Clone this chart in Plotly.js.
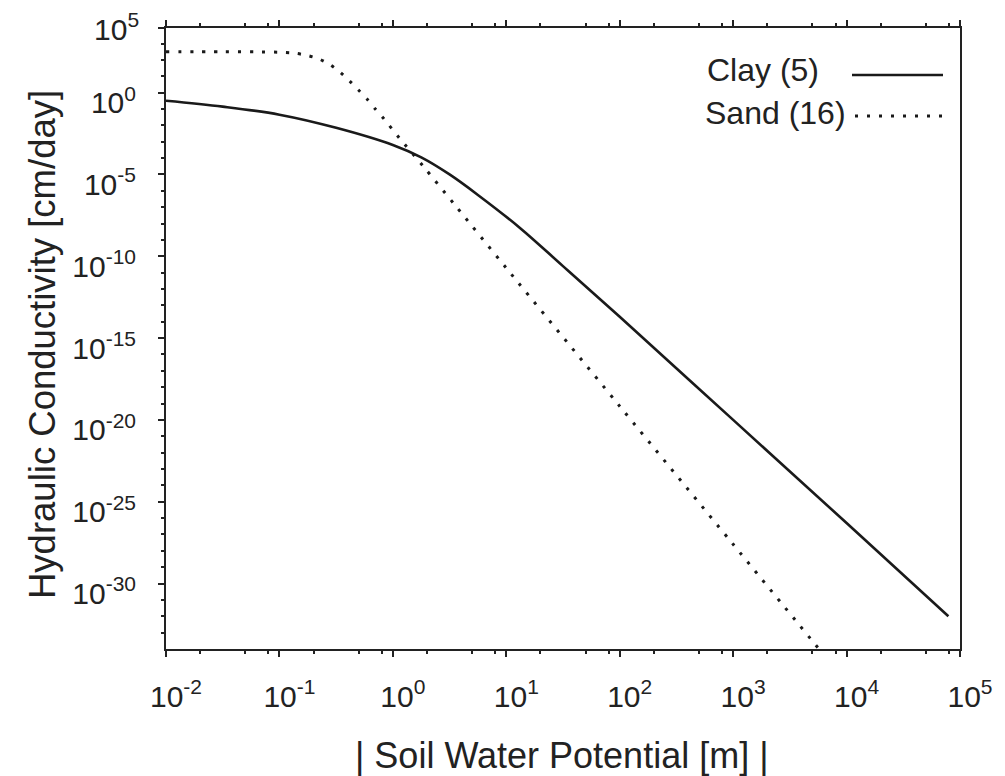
<!DOCTYPE html>
<html>
<head>
<meta charset="utf-8">
<script src="https://cdn.plot.ly/plotly-3.0.1.min.js"></script>
<style>html,body{margin:0;padding:0;background:#fff;}#chart{width:1005px;height:776px;}</style>
</head>
<body>
<div id="chart"></div>
<script>
// Data
const clayName = "Clay (5)";
const sandName = "Sand (16)";
const clayX = [1e-2, 3.16e-2, 1e-1, 0.316, 1, 1.78, 3.16, 5.62, 13.2, 31.6, 100, 1000, 1e4, 7.9e4];
const clayY = [3.2e-1, 1.4e-1, 4.5e-2, 7.1e-3, 6.3e-4, 1.1e-4, 1e-5, 5.6e-7, 5.4e-9, 2.5e-11, 2e-14, 1e-20, 5e-27, 1e-32];
const sandX = [1e-2, 3.16e-2, 6.3e-2, 0.1, 0.134, 0.174, 0.223, 0.279, 0.344, 0.413, 0.495, 0.592, 0.700, 0.830, 1.14, 1.88, 3.61, 10, 100, 1000, 6310];
const sandY = [316, 316, 309, 295, 263, 190, 115, 51, 17.4, 5.4, 1.5, 0.41, 0.1, 0.026, 1.7e-3, 2.8e-5, 1.1e-7, 1.9e-11, 6.9e-20, 2.5e-28, 4.3e-35];

const xTickVals = [1e-2, 1e-1, 1e0, 1e1, 1e2, 1e3, 1e4, 1e5];
const xTickExp = ["-2", "-1", "0", "1", "2", "3", "4", "5"];
const yTickVals = [1e-30, 1e-25, 1e-20, 1e-15, 1e-10, 1e-5, 1e0, Math.pow(10, 3.95)];
const yTickExp = ["-30", "-25", "-20", "-15", "-10", "-5", "0", "5"];

const xTitle = "| Soil Water Potential [m] |";
const yTitle = "Hydraulic Conductivity [cm/day]";

const supLabel = e => "10<sup>" + e + "</sup>";
// the top label is drawn just below the frame corner, as in the reference
const yTickText = yTickExp.map((e, i) => i === yTickExp.length - 1 ? "" : supLabel(e));

// minor tick positions
const xMinor = [];
for (let e = -2; e < 5; e++) { [2, 5, 8].forEach(m => xMinor.push(m * Math.pow(10, e))); }
const yMinor = [];
for (let e = -33; e <= 3; e++) { if (e % 5 !== 0) yMinor.push(Math.pow(10, e)); }

const W = 1005, H = 776;
const M = {l: 166, r: 45, t: 28, b: 127};
const px = x => (x - M.l) / (W - M.l - M.r);
const py = y => (H - M.b - y) / (H - M.t - M.b);

const font = "Liberation Sans, Arial, Helvetica, sans-serif";
const ink = "#222";

const traces = [
  {x: clayX, y: clayY, mode: "lines", name: clayName,
   line: {color: "#1a1a1a", width: 2.6, shape: "spline", smoothing: 1}},
  {x: sandX, y: sandY, mode: "lines", name: sandName,
   line: {color: "#1a1a1a", width: 3, dash: "3px,9px", shape: "spline", smoothing: 0.8}}
];

const layout = {
  width: W, height: H,
  margin: M,
  paper_bgcolor: "#fff", plot_bgcolor: "#fff",
  showlegend: false,
  font: {family: font, color: ink, size: 30},
  xaxis: {
    type: "log", range: [-2, 5],
    tickmode: "array", tickvals: xTickVals, ticktext: xTickExp.map(supLabel),
    ticks: "outside", ticklen: 6, tickwidth: 2, tickcolor: ink,
    minor: {tickmode: "array", tickvals: xMinor, ticks: "outside", ticklen: 3, tickwidth: 2, tickcolor: ink},
    showline: true, linecolor: ink, linewidth: 2, mirror: "ticks",
    showgrid: false, zeroline: false,
    tickfont: {size: 30, family: font, color: ink},
    ticklabelshift: 10, ticklabelstandoff: 14,
    automargin: false
  },
  yaxis: {
    type: "log", range: [-34, 3.95],
    tickmode: "array", tickvals: yTickVals, ticktext: yTickText,
    ticks: "outside", ticklen: 6, tickwidth: 2, tickcolor: ink,
    minor: {tickmode: "array", tickvals: yMinor, ticks: "outside", ticklen: 3, tickwidth: 2, tickcolor: ink},
    showline: true, linecolor: ink, linewidth: 2, mirror: true,
    showgrid: false, zeroline: false,
    tickfont: {size: 30, family: font, color: ink},
    ticklabelshift: 10, ticklabelstandoff: 16,
    automargin: false
  },
  annotations: [
    {xref: "paper", yref: "paper", x: px(141), y: py(27), xanchor: "right", yanchor: "middle",
     text: supLabel(yTickExp[yTickExp.length - 1]), showarrow: false, font: {size: 30, family: font, color: ink}},
    {xref: "paper", yref: "paper", x: px(705), y: py(70), xanchor: "left", yanchor: "middle",
     text: clayName, showarrow: false, font: {size: 32, family: font, color: ink}},
    {xref: "paper", yref: "paper", x: px(703), y: py(112.5), xanchor: "left", yanchor: "middle",
     text: sandName, showarrow: false, font: {size: 32, family: font, color: ink}},
    {xref: "paper", yref: "paper", x: px(562), y: py(755), xanchor: "center", yanchor: "middle",
     text: xTitle, showarrow: false, font: {size: 36, family: font, color: ink}},
    {xref: "paper", yref: "paper", x: px(42), y: py(345), xanchor: "center", yanchor: "middle",
     text: yTitle, textangle: -90, showarrow: false, font: {size: 36.5, family: font, color: ink}}
  ],
  shapes: [
    {type: "line", xref: "paper", yref: "paper", x0: px(852), x1: px(943), y0: py(75), y1: py(75),
     line: {color: "#1a1a1a", width: 2.6}},
    {type: "line", xref: "paper", yref: "paper", x0: px(855), x1: px(945), y0: py(116), y1: py(116),
     line: {color: "#1a1a1a", width: 3, dash: "3px,9px"}}
  ]
};

Plotly.newPlot("chart", traces, layout, {displayModeBar: false, staticPlot: true});
</script>
</body>
</html>
